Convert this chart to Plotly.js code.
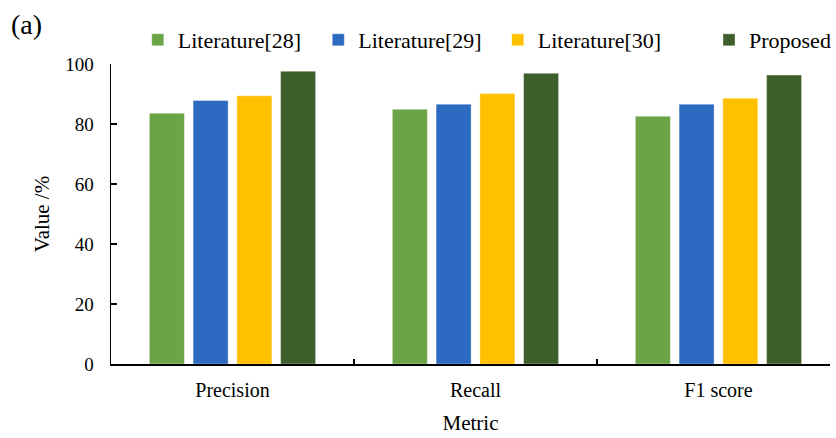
<!DOCTYPE html>
<html>
<head>
<meta charset="utf-8">
<script src="https://cdn.plot.ly/plotly-3.0.1.min.js"></script>
<style>html,body{margin:0;padding:0;background:#fff;}</style>
</head>
<body>
<div id="chart" style="width:836px;height:438px;"></div>
<script>
const categories = ["Precision", "Recall", "F1 score"];
const seriesNames = ["Literature[28]", "Literature[29]", "Literature[30]", "Proposed"];
const lit28 = [83.6, 84.9, 82.6];
const lit29 = [87.8, 86.6, 86.6];
const lit30 = [89.4, 90.2, 88.6];
const proposed = [97.6, 96.9, 96.3];
const yTicks = [0, 20, 40, 60, 80, 100];
const colors = ["#6aa446", "#2c69c0", "#ffc000", "#3e5f2b"];

const values = [lit28, lit29, lit30, proposed];
const FONT = "Liberation Serif";
const legendIds = ["legend", "legend2", "legend3", "legend4"];
const legendLeftPx = [138, 320, 501, 714];

const data = values.map((v, i) => ({
  type: "bar",
  name: seriesNames[i],
  x: categories,
  y: v,
  legend: legendIds[i],
  marker: {color: colors[i], line: {width: 0.6, color: "rgba(255,255,255,0.6)"}}
}));

const layout = {
  width: 836, height: 438,
  margin: {l: 111, r: 0, t: 64, b: 74},
  paper_bgcolor: "#fff", plot_bgcolor: "#fff",
  font: {family: FONT, color: "#000", size: 19},
  barmode: "group",
  bargap: 0.28,
  bargroupgap: 0.2,
  title: {text: "(a)", x: 11/836, xanchor: "left", xref: "container", y: 1 - 24/438, yanchor: "middle", yref: "container", font: {family: FONT, size: 28, color: "#000"}},
  showlegend: true,
  xaxis: {
    type: "category",
    range: [-0.5, 2.459],
    showline: true, linecolor: "#000", linewidth: 1.5,
    ticks: "inside", ticklen: 5, tickwidth: 1.2, tickcolor: "#000",
    tickson: "boundaries",
    showgrid: false, zeroline: false,
    tickfont: {family: FONT, size: 20, color: "#000"},
    ticklabelstandoff: 7,
    title: {text: "Metric", font: {family: FONT, size: 21, color: "#000"}, standoff: 16},
    automargin: false
  },
  yaxis: {
    range: [0, 100],
    tickvals: yTicks,
    ticktext: yTicks.map(String),
    showline: true, linecolor: "#000", linewidth: 1.5,
    ticks: "inside", ticklen: 6, tickwidth: 1.2, tickcolor: "#000",
    showgrid: false, zeroline: false,
    tickfont: {family: FONT, size: 19, color: "#000"},
    ticklabelstandoff: 12,
    title: {text: "Value /%", font: {family: FONT, size: 21, color: "#000"}, standoff: 10},
    automargin: false
  }
};

legendIds.forEach((id, i) => {
  layout[id] = {
    orientation: "h",
    x: (legendLeftPx[i] - 111) / 725, xanchor: "left",
    y: 1.08, yanchor: "middle",
    font: {family: FONT, size: 22, color: "#000"},
    itemwidth: 30,
    bgcolor: "rgba(0,0,0,0)"
  };
});

Plotly.newPlot("chart", data, layout, {displayModeBar: false, staticPlot: true});
</script>
</body>
</html>
